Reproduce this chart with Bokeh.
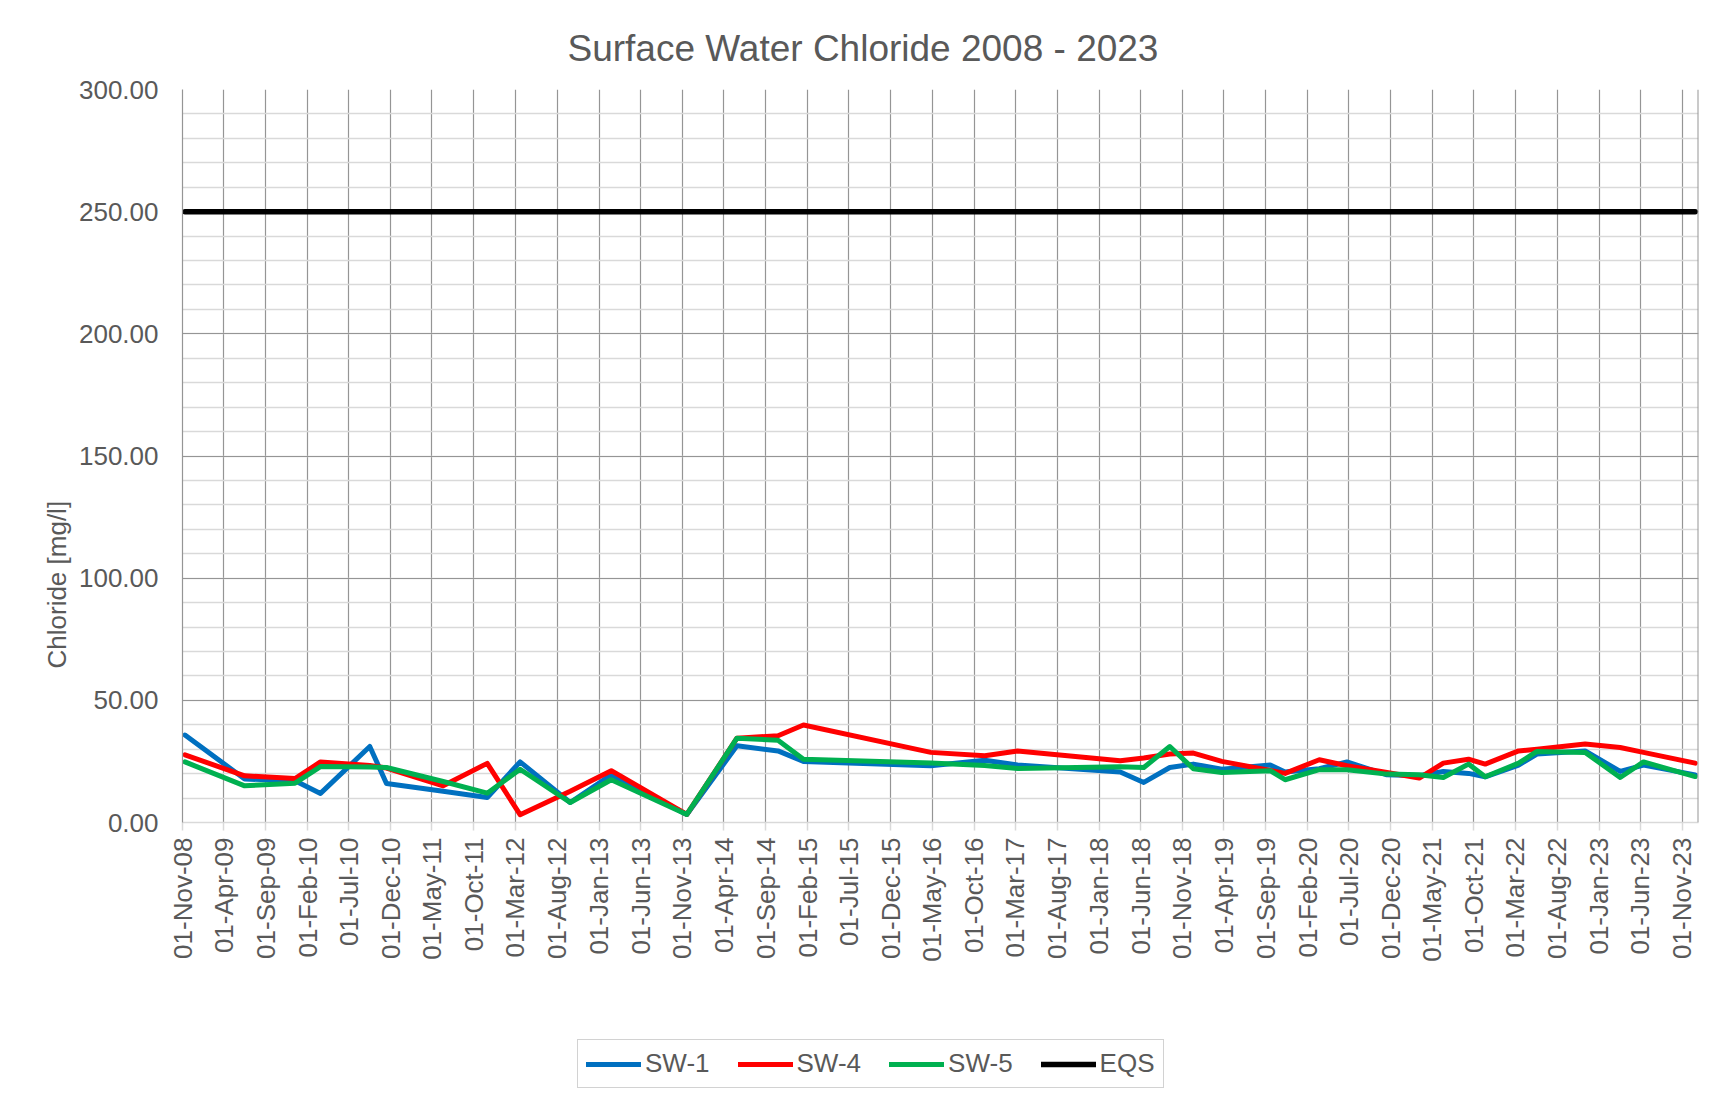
import numpy as np
import pandas as pd
from bokeh.plotting import figure
from bokeh.layouts import column
from bokeh.models import (ColumnDataSource, FixedTicker, DatetimeTickFormatter,
                          NumeralTickFormatter, SingleIntervalTicker, Legend,
                          LegendItem, Span, Range1d, Title)
from bokeh.embed import file_html
from bokeh.resources import INLINE

# ---------------- data ----------------
dates = ["2008-11-10", "2009-06-16", "2009-12-17", "2010-03-20", "2010-09-16",
         "2010-11-16", "2011-06-11", "2011-11-19", "2012-03-18", "2012-09-17",
         "2013-02-14", "2013-11-17", "2014-05-19", "2014-10-16", "2015-01-17",
         "2016-04-26", "2016-11-09", "2017-03-09", "2018-03-19", "2018-06-13",
         "2018-09-16", "2018-12-11", "2019-03-25", "2019-09-18", "2019-11-11",
         "2020-03-15", "2020-06-24", "2020-11-17", "2021-03-15", "2021-06-11",
         "2021-09-11", "2021-11-11", "2022-03-13", "2022-05-19", "2022-11-11",
         "2023-03-19", "2023-06-12", "2023-12-18"]

sw1 = [35.8, 17.8, 17.1, 11.9, 31.1, 16.0, 12.8, 10.2, 24.8, 8.2,
       19.5, 3.3, 31.4, 29.3, 25.0, 23.2, 25.5, 23.5, 20.7, 16.4,
       22.5, 23.9, 21.8, 23.5, 20.7, 22.0, 24.8, 19.5, 19.1, 20.9,
       20.1, 18.7, 23.5, 28.0, 29.3, 20.9, 23.5, 19.5]

sw4 = [27.7, 19.1, 18.0, 24.8, 23.3, 22.3, 15.0, 24.2, 3.2, 12.8,
       21.2, 3.3, 34.5, 35.5, 39.9, 28.7, 27.3, 29.3, 25.3, 26.4,
       28.0, 28.4, 25.0, 21.3, 20.1, 25.7, 23.2, 20.5, 18.2, 24.3,
       25.9, 23.9, 29.3, 30.0, 32.1, 30.7, 28.7, 24.3]

sw5 = [24.8, 15.0, 16.1, 22.9, 22.7, 22.5, 16.8, 12.0, 21.8, 8.2,
       17.5, 3.3, 34.5, 33.7, 25.9, 24.4, 23.3, 22.1, 22.8, 22.5,
       31.1, 22.0, 20.5, 21.2, 17.5, 21.6, 21.6, 19.8, 19.5, 18.4,
       23.9, 18.7, 24.3, 29.1, 28.7, 18.4, 24.8, 18.8]

eqs_dates = ["2008-11-10", "2023-12-18"]
eqs = [250.0, 250.0]

series_names = ["SW-1", "SW-4", "SW-5", "EQS"]
series_colors = ["#0070C0", "#FF0000", "#00B050", "#000000"]

tick_dates = ["2008-11-01", "2009-04-01", "2009-09-01", "2010-02-01", "2010-07-01",
              "2010-12-01", "2011-05-01", "2011-10-01", "2012-03-01", "2012-08-01",
              "2013-01-01", "2013-06-01", "2013-11-01", "2014-04-01", "2014-09-01",
              "2015-02-01", "2015-07-01", "2015-12-01", "2016-05-01", "2016-10-01",
              "2017-03-01", "2017-08-01", "2018-01-01", "2018-06-01", "2018-11-01",
              "2019-04-01", "2019-09-01", "2020-02-01", "2020-07-01", "2020-12-01",
              "2021-05-01", "2021-10-01", "2022-03-01", "2022-08-01", "2023-01-01",
              "2023-06-01", "2023-11-01"]

x_start = "2008-11-01"
x_end = "2023-12-30"

# ---------------- helpers ----------------
def to_ms(s):
    return pd.Timestamp(s).value // 10**6

FONT = "Liberation Sans"
TXT = "#595959"
GRID_DARK = "#959595"
GRID_LIGHT = "#d9d9d9"
W = 1709

src = ColumnDataSource(dict(date=pd.to_datetime(dates), sw1=sw1, sw4=sw4, sw5=sw5))
src_eqs = ColumnDataSource(dict(date=pd.to_datetime(eqs_dates), eqs=eqs))

p = figure(width=W, height=1000, x_axis_type="datetime",
           x_range=Range1d(to_ms(x_start), to_ms(x_end)),
           y_range=Range1d(0, 300),
           output_backend="svg", toolbar_location=None,
           min_border_left=182, min_border_right=11,
           min_border_top=89, min_border_bottom=178,
           background_fill_color="white", border_fill_color="white")
p.outline_line_color = None

# title
p.title.text = "Surface Water Chloride 2008 - 2023"
p.title.text_font = FONT
p.title.text_font_size = "37px"
p.title.text_font_style = "normal"
p.title.text_color = TXT
p.title.align = "left"
p.title.offset = 385
p.title.standoff = 42

# y axis title (side title so it can be placed freely)
ytitle = Title(text="Chloride [mg/l]", align="left", offset=154, standoff=8,
               text_font=FONT, text_font_size="26px", text_font_style="normal",
               text_color=TXT)
p.add_layout(ytitle, "left")

# x axis
ticks = [to_ms(d) for d in tick_dates]
p.xaxis.ticker = FixedTicker(ticks=ticks)
fmt = "%d-%b-%y"
p.xaxis.formatter = DatetimeTickFormatter(
    microseconds=fmt, milliseconds=fmt, seconds=fmt, minsec=fmt, minutes=fmt,
    hourmin=fmt, hours=fmt, days=fmt, months=fmt, years=fmt,
    strip_leading_zeros=False)
p.xaxis.major_label_orientation = np.pi / 2
p.xaxis.major_label_text_font = FONT
p.xaxis.major_label_text_font_size = "26px"
p.xaxis.major_label_text_color = TXT
p.xaxis.major_label_standoff = 7
p.xaxis.axis_line_color = GRID_LIGHT
p.xaxis.axis_line_width = 1.5
p.xaxis.major_tick_line_color = GRID_LIGHT
p.xaxis.major_tick_line_width = 1.5
p.xaxis.major_tick_out = 8
p.xaxis.major_tick_in = 0
p.xaxis.minor_tick_line_color = None

# y axis
p.yaxis.ticker = SingleIntervalTicker(interval=50, num_minor_ticks=5)
p.yaxis.formatter = NumeralTickFormatter(format="0.00")
p.yaxis.major_label_text_font = FONT
p.yaxis.major_label_text_font_size = "26px"
p.yaxis.major_label_text_color = TXT
p.yaxis.major_label_standoff = 20
p.yaxis.major_tick_line_color = None
p.yaxis.major_tick_out = 0
p.yaxis.major_tick_in = 0
p.yaxis.minor_tick_line_color = None
p.yaxis.axis_line_color = GRID_DARK
p.yaxis.axis_line_width = 1.2

# grids
p.xgrid.ticker = FixedTicker(ticks=ticks)
p.xgrid.grid_line_color = GRID_DARK
p.xgrid.grid_line_width = 1.2
p.ygrid.grid_line_color = GRID_DARK
p.ygrid.grid_line_width = 1.2
p.ygrid.minor_grid_line_color = GRID_LIGHT
p.ygrid.minor_grid_line_width = 1.5

# right border of plot area
p.add_layout(Span(location=to_ms(x_end), dimension="height",
                  line_color=GRID_DARK, line_width=2))

# lines
r1 = p.line("date", "sw1", source=src, line_color=series_colors[0], line_width=5,
            line_cap="round", line_join="round")
r4 = p.line("date", "sw4", source=src, line_color=series_colors[1], line_width=5,
            line_cap="round", line_join="round")
r5 = p.line("date", "sw5", source=src, line_color=series_colors[2], line_width=5,
            line_cap="round", line_join="round")
re = p.line("date", "eqs", source=src_eqs, line_color=series_colors[3], line_width=5.5,
            line_cap="round", line_join="round")

# ---------------- legend strip (separate canvas below the chart) ----------------
pl = figure(width=W, height=96, x_range=Range1d(0, 1), y_range=Range1d(0, 1),
            output_backend="svg", toolbar_location=None,
            x_axis_location=None, y_axis_location=None,
            min_border=0, min_border_left=0, min_border_right=0,
            min_border_top=0, min_border_bottom=0,
            background_fill_color="white", border_fill_color="white")
pl.outline_line_color = None
pl.grid.visible = False

# legend proxies: sit outside the visible range, only their styles are used
proxy = ColumnDataSource(dict(x=[-3.0, -2.0], y=[-3.0, -2.0]))
items = []
for name, col in zip(series_names, series_colors):
    rr = pl.line("x", "y", source=proxy, line_color=col,
                 line_width=5.5 if name == "EQS" else 5, line_cap="round")
    items.append(LegendItem(label=name, renderers=[rr]))

legend = Legend(items=items, orientation="horizontal", location=(395, 8),
                margin=0, padding=8, spacing=28, label_standoff=4,
                glyph_width=55, glyph_height=20,
                label_text_font=FONT, label_text_font_size="26px",
                label_text_color=TXT,
                border_line_color="#a6a6a6", border_line_width=1.5,
                background_fill_color="white", background_fill_alpha=1.0)
pl.add_layout(legend)

layout = column(p, pl, spacing=0)
open("out.html", "w").write(file_html(layout, INLINE))
